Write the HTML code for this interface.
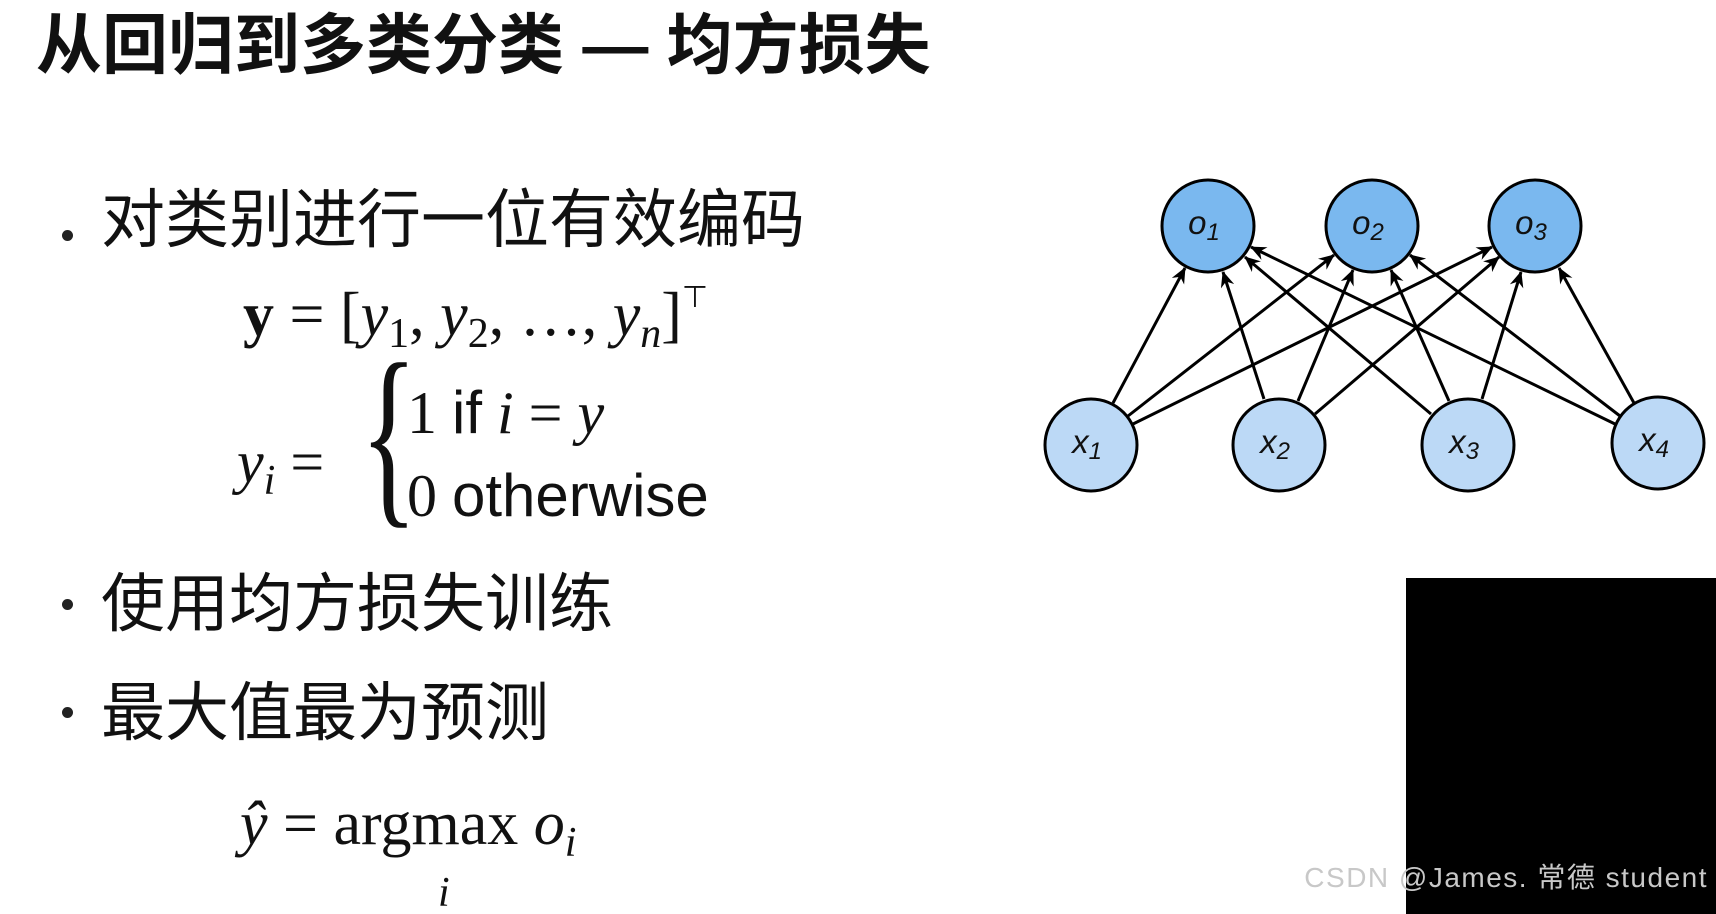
<!DOCTYPE html>
<html><head><meta charset="utf-8"><style>
html,body{margin:0;padding:0;background:#fff;width:1716px;height:914px;overflow:hidden;position:relative}
.a{position:absolute;white-space:nowrap;line-height:1}
.cjk{font-family:"Liberation Sans","Noto Sans CJK SC",sans-serif;color:#111}
.ser{font-family:"Liberation Serif",serif;color:#111}
.san{font-family:"Liberation Sans",sans-serif;color:#111}
.dot{position:absolute;width:11px;height:11px;border-radius:50%;background:#222}
.sb{font-size:42px;position:relative;top:12px}
</style></head><body>
<div class="a cjk" style="left:36px;top:12px;font-size:66px;font-weight:bold">从回归到多类分类 — 均方损失</div>

<div class="dot" style="left:62px;top:230px"></div>
<div class="a cjk" style="left:101px;top:188px;font-size:64px">对类别进行一位有效编码</div>

<div class="a ser" style="left:243px;top:284px;font-size:62px"><b>y</b> = [<i>y</i><span class="sb">1</span>, <i>y</i><span class="sb">2</span>, …, <i>y<span class="sb">n</span></i>]<sup class="san" style="font-size:30px;position:relative;top:-6px">⊤</sup></div>

<div class="a ser" style="left:237px;top:432px;font-size:60px"><i>y<span class="sb">i</span></i> =</div>
<div class="a ser" style="left:360px;top:345px;font-size:200px;transform:scaleX(0.6);transform-origin:left;line-height:0.9">{</div>
<div class="a ser" style="left:407px;top:383px;font-size:60px">1 <span class="san">if</span> <i>i</i> = <i>y</i></div>
<div class="a ser" style="left:407px;top:466px;font-size:60px">0 <span class="san">otherwise</span></div>

<div class="dot" style="left:62px;top:599px"></div>
<div class="a cjk" style="left:101px;top:572px;font-size:64px">使用均方损失训练</div>
<div class="dot" style="left:62px;top:707px"></div>
<div class="a cjk" style="left:101px;top:681px;font-size:64px">最大值最为预测</div>

<div class="a ser" style="left:240px;top:793px;font-size:62px"><i>ŷ</i> = argmax <i>o<span class="sb">i</span></i></div>
<div class="a ser" style="left:438px;top:872px;font-size:42px"><i>i</i></div>

<svg style="position:absolute;left:0;top:0" width="1716" height="914">
<defs><marker id="ar" viewBox="0 0 16 14" refX="15" refY="7" markerWidth="16" markerHeight="14" markerUnits="userSpaceOnUse" orient="auto"><path d="M0,0 L16,7 L0,14 L5,7 Z" fill="#000"/></marker></defs>
<g stroke="#000" stroke-width="3" marker-end="url(#ar)">
<line x1="1113" y1="403" x2="1185" y2="268"/>
<line x1="1128" y1="416" x2="1334" y2="255"/>
<line x1="1133" y1="424" x2="1492" y2="247"/>
<line x1="1264" y1="399" x2="1223" y2="272"/>
<line x1="1298" y1="401" x2="1353" y2="270"/>
<line x1="1315" y1="414" x2="1499" y2="257"/>
<line x1="1431" y1="414" x2="1245" y2="257"/>
<line x1="1449" y1="401" x2="1391" y2="270"/>
<line x1="1482" y1="399" x2="1521" y2="272"/>
<line x1="1615" y1="424" x2="1251" y2="247"/>
<line x1="1620" y1="416" x2="1410" y2="255"/>
<line x1="1634" y1="403" x2="1559" y2="268"/>
</g>
<g stroke="#000" stroke-width="3">
<circle cx="1208" cy="226" r="46" fill="#7ab8ef"/>
<circle cx="1372" cy="226" r="46" fill="#7ab8ef"/>
<circle cx="1535" cy="226" r="46" fill="#7ab8ef"/>
<circle cx="1091" cy="445" r="46" fill="#bcd9f6"/>
<circle cx="1279" cy="445" r="46" fill="#bcd9f6"/>
<circle cx="1468" cy="445" r="46" fill="#bcd9f6"/>
<circle cx="1658" cy="443" r="46" fill="#bcd9f6"/>
</g>
<g font-family="Liberation Sans,sans-serif" font-style="italic" font-size="33" fill="#111" text-anchor="middle">
<text x="1204" y="234">o<tspan font-size="24" dy="6">1</tspan></text>
<text x="1368" y="234">o<tspan font-size="24" dy="6">2</tspan></text>
<text x="1531" y="234">o<tspan font-size="24" dy="6">3</tspan></text>
<text x="1087" y="453">x<tspan font-size="24" dy="6">1</tspan></text>
<text x="1275" y="453">x<tspan font-size="24" dy="6">2</tspan></text>
<text x="1464" y="453">x<tspan font-size="24" dy="6">3</tspan></text>
<text x="1654" y="451">x<tspan font-size="24" dy="6">4</tspan></text>
</g>
<rect x="1406" y="578" width="310" height="336" fill="#000"/>
<text x="1708" y="887" text-anchor="end" font-family="Liberation Sans,Noto Sans CJK SC,sans-serif" font-size="28" letter-spacing="1.5" fill="#c8c8c8">CSDN @James. 常德 student</text>
</svg>
</body></html>
